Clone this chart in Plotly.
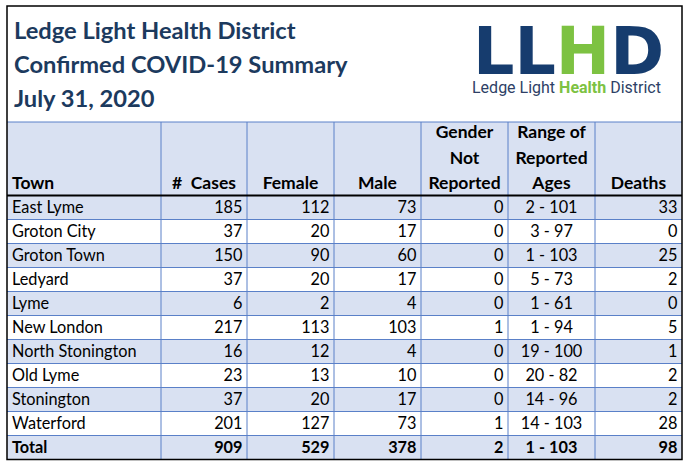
import plotly.graph_objects as go

# ---------------- data ----------------
towns = ["East Lyme", "Groton City", "Groton Town", "Ledyard", "Lyme", "New London",
         "North Stonington", "Old Lyme", "Stonington", "Waterford"]
cases = [185, 37, 150, 37, 6, 217, 16, 23, 37, 201]
female = [112, 20, 90, 20, 2, 113, 12, 13, 20, 127]
male = [73, 17, 60, 17, 4, 103, 4, 10, 17, 73]
gender_not_reported = [0, 0, 0, 0, 0, 1, 0, 0, 0, 1]
age_range = ["2 - 101", "3 - 97", "1 - 103", "5 - 73", "1 - 61", "1 - 94",
             "19 - 100", "20 - 82", "14 - 96", "14 - 103"]
deaths = [33, 0, 25, 2, 0, 5, 1, 2, 2, 28]
total_row = ["Total", 909, 529, 378, 2, "1 - 103", 98]

header_lines = [["Town"], ["#  Cases"], ["Female"], ["Male"],
                ["Gender", "Not", "Reported"], ["Range of", "Reported", "Ages"], ["Deaths"]]
title_lines = ["Ledge Light Health District", "Confirmed COVID-19 Summary", "July 31, 2020"]

# ---------------- layout / style ----------------
W, H = 689, 468
col_widths = [154, 86, 87, 87, 87, 87, 87]
left, border_top = 7, 6
header_top, header_bottom = 122, 195.5
row_h = 24
pad = 4.5
text_dy = 1.5
data_align = ["left", "right", "right", "right", "right", "center", "right"]
head_align = ["left", "center", "center", "center", "center", "center", "center"]
fill_blue = "#D9E1F2"
grid_blue = "#5A80C8"
title_color = "#1C3A5E"
navy = "#163C6E"
green = "#7DC242"
FONT = "Lato"

edges = [left]
for w in col_widths:
    edges.append(edges[-1] + w)
right = edges[-1]

columns = [towns, cases, female, male, gender_not_reported, age_range, deaths]
n_rows = len(towns) + 1
bottom = header_bottom + n_rows * row_h
row_centers = [header_bottom + row_h * (i + 0.5) + text_dy for i in range(n_rows)]

def anchor_x(ci, align):
    if align == "left":
        return edges[ci] + 5, "middle right"
    if align == "right":
        return edges[ci + 1] - pad, "middle left"
    return (edges[ci] + edges[ci + 1]) / 2, "middle center"

fig = go.Figure()

# body text
for ci, col in enumerate(columns):
    x, tp = anchor_x(ci, data_align[ci])
    vals = [str(v) for v in col]
    fig.add_trace(go.Scatter(
        x=[x] * len(vals), y=row_centers[:len(vals)], text=vals, mode="text",
        textposition=tp, textfont=dict(family=FONT, size=16.3, color="#000000"),
        hoverinfo="skip", showlegend=False))
    # total row
    fig.add_trace(go.Scatter(
        x=[x], y=[row_centers[-1]], text=["<b>%s</b>" % total_row[ci]], mode="text",
        textposition=tp, textfont=dict(family=FONT, size=16.3, color="#000000"),
        hoverinfo="skip", showlegend=False))

# header text (bottom aligned lines)
line_gap = 25.7
last_line_y = 185
for ci, lines in enumerate(header_lines):
    x, tp = anchor_x(ci, head_align[ci])
    ys = [last_line_y - line_gap * (len(lines) - 1 - k) for k in range(len(lines))]
    fig.add_trace(go.Scatter(
        x=[x] * len(lines), y=ys, text=["<b>%s</b>" % t for t in lines], mode="text",
        textposition=tp, textfont=dict(family=FONT, size=17.5, color="#000000"),
        hoverinfo="skip", showlegend=False))

shapes = []
# fills
shapes.append(dict(type="rect", x0=left, x1=right, y0=header_top, y1=header_bottom,
                   fillcolor=fill_blue, line_width=0, layer="below"))
for i in range(n_rows):
    if i % 2 == 0:
        shapes.append(dict(type="rect", x0=left, x1=right,
                           y0=header_bottom + i * row_h, y1=header_bottom + (i + 1) * row_h,
                           fillcolor=fill_blue, line_width=0, layer="below"))
# grid lines
shapes.append(dict(type="line", x0=left, x1=right, y0=header_top, y1=header_top,
                   line=dict(color=grid_blue, width=1)))
for i in range(1, n_rows):
    y = header_bottom + i * row_h
    shapes.append(dict(type="line", x0=left, x1=right, y0=y, y1=y,
                       line=dict(color=grid_blue, width=1)))
for e in edges[1:-1]:
    shapes.append(dict(type="line", x0=e, x1=e, y0=header_top, y1=bottom,
                       line=dict(color=grid_blue, width=1)))
shapes.append(dict(type="line", x0=left, x1=right, y0=header_bottom, y1=header_bottom,
                   line=dict(color="#000000", width=2)))
shapes.append(dict(type="rect", x0=left, x1=right, y0=border_top, y1=bottom,
                   line=dict(color="#000000", width=1.5)))

annotations = []
title_y = [30, 64, 98]
for t, y in zip(title_lines, title_y):
    annotations.append(dict(x=12, y=y, xref="x", yref="y", text="<b>%s</b>" % t,
                            showarrow=False, xanchor="left", yanchor="middle",
                            font=dict(family=FONT, size=23.7, color=title_color)))
# logo
annotations.append(dict(x=568, y=51, xref="x", yref="y",
                        text="<b>LL<span style='color:%s'>H</span>D</b>" % green,
                        showarrow=False, xanchor="center", yanchor="middle",
                        font=dict(family="DejaVu Sans", size=65, color=navy)))
annotations.append(dict(x=566, y=87, xref="x", yref="y",
                        text="Ledge Light <span style='color:%s'><b>Health</b></span> District" % green,
                        showarrow=False, xanchor="center", yanchor="middle",
                        font=dict(family="Roboto", size=16, color="#2E3F66")))

fig.update_layout(
    width=W, height=H, margin=dict(l=0, r=0, t=0, b=0),
    paper_bgcolor="white", plot_bgcolor="white",
    xaxis=dict(range=[0, W], visible=False, fixedrange=True),
    yaxis=dict(range=[H, 0], visible=False, fixedrange=True),
    shapes=shapes, annotations=annotations, showlegend=False,
)

fig.write_html("out.html", config={"displayModeBar": False, "staticPlot": True},
               post_script="document.body.style.margin='0';document.body.style.overflow='hidden';")
